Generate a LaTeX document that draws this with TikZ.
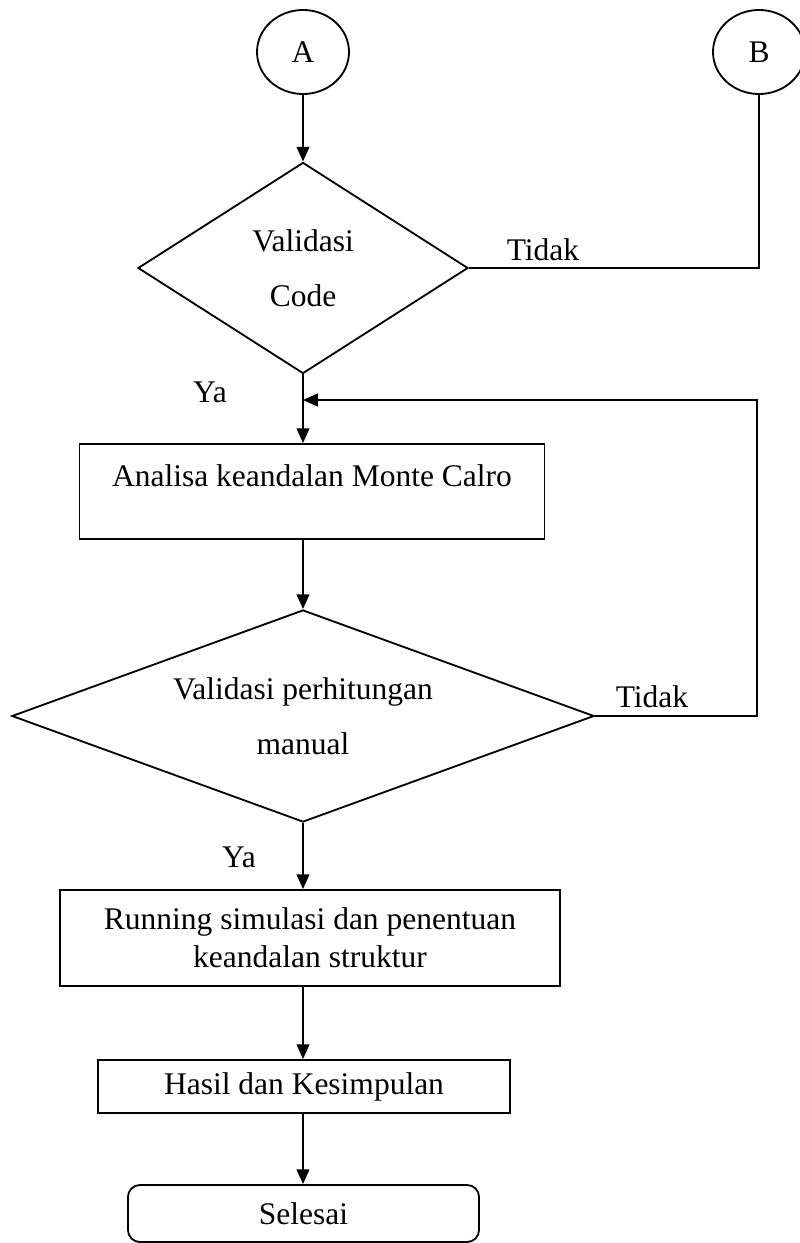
\documentclass[tikz,border=0pt]{standalone}
\usepackage{fontspec}
\setmainfont{Liberation Serif}
\usetikzlibrary{shapes.geometric,arrows.meta}
\tikzset{
penghubung/.style={
 ellipse, 
 draw=black, 
 minimum width=2.3cm, 
 minimum height=2.1cm, 
 inner sep=0pt
 },
keputusan/.style={
 diamond, 
 draw=black, 
 align=center, 
 inner sep=0pt
 },
proses/.style={
 rectangle, 
 draw=black, 
 align=center, 
 inner sep=0pt
 },
akhir/.style={
 rectangle, 
 rounded corners=0.3cm, 
 draw=black, 
 inner sep=0pt
 },
panah/.style={
 draw=black, 
 -{Triangle[length=0.37cm,width=0.32cm]}
 },
garis/.style={
 draw=black
 }
}

\begin{document}
\begin{tikzpicture}[x=0.025cm,y=-0.025cm,line width=1.3pt,font=\fontsize{22.4}{27}\selectfont]
\useasboundingbox (0,0) rectangle (800,1243);
\node[penghubung] (A) at (303,52) {A};
\node[penghubung] (B) at (759,52) {B};
\node[keputusan,aspect=1.56,minimum width=8.25cm,minimum height=5.275cm] (val1) at (303,268) {Validasi\\[12pt]Code};
\node[proses,minimum width=11.625cm,minimum height=2.375cm,text height=0.55cm,text depth=0.8cm] (monte) at (312,491.5) {Analisa keandalan Monte Calro};
\node[keputusan,aspect=2.75,minimum width=14.55cm,minimum height=5.3cm] (val2) at (303,716) {Validasi perhitungan\\[12pt]manual};
\node[proses,minimum width=12.5cm,minimum height=2.4cm] (running) at (310,938) {Running simulasi dan penentuan\\keandalan struktur};
\node[proses,minimum width=10.3cm,minimum height=1.325cm] (hasil) at (304,1086.5) {Hasil dan Kesimpulan};
\node[akhir,minimum width=8.775cm,minimum height=1.425cm] (selesai) at (303.5,1213.5) {Selesai};
\node (tidak1) at (543,250) {Tidak};
\node (tidak2) at (652,697) {Tidak};
\node (ya1) at (210,392) {Ya};
\node (ya2) at (239,857) {Ya};
\coordinate (putar) at (757,400);
\draw[panah] (A) -- (val1);
\draw[garis] (val1.east) -- (val1.east -| B.south) -- (B.south);
\draw[panah] (val1.south) -- (val1.south |- monte.north);
\draw[panah] (val2.east) -- (val2.east -| putar) -- (putar) -- (putar -| val1.south);
\draw[panah] (val1.south |- monte.south) -- (val2.north);
\draw[panah] (val2.south) -- (val2.south |- running.north);
\draw[panah] (val2.south |- running.south) -- (val2.south |- hasil.north);
\draw[panah] (val2.south |- hasil.south) -- (val2.south |- selesai.north);
\end{tikzpicture}
\end{document}
